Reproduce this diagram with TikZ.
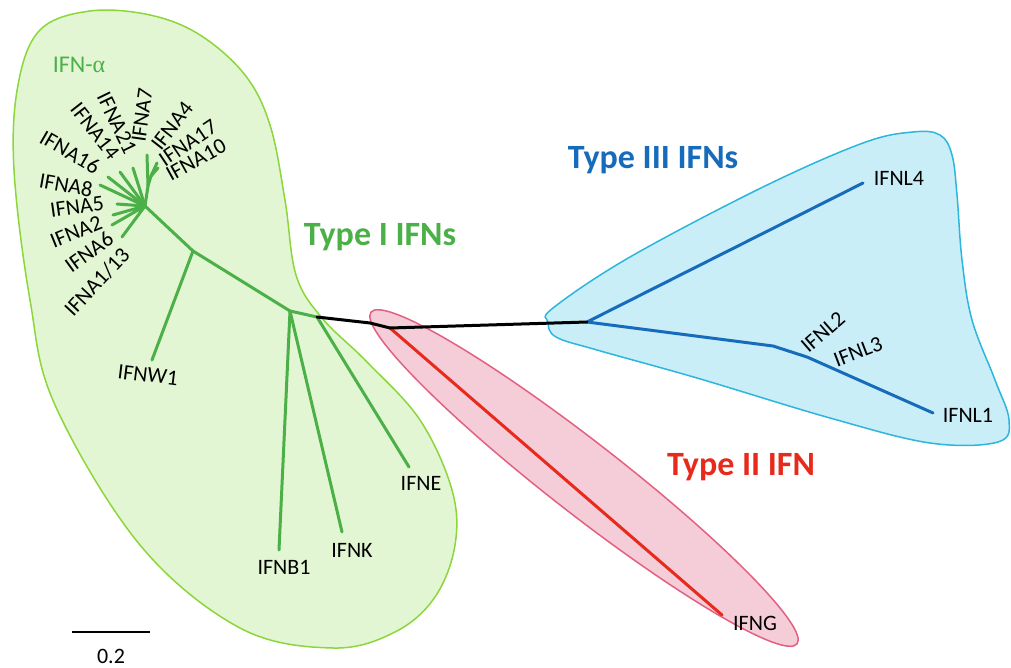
\documentclass[tikz,border=0pt]{standalone}
\usepackage{fontspec}
\setmainfont{Carlito}
\newfontfamily\greekfont{Liberation Serif}
\definecolor{typeIfill}{RGB}{227,246,211}
\definecolor{typeIline}{RGB}{140,214,60}
\definecolor{typeItree}{RGB}{76,176,72}
\definecolor{typeIIfill}{RGB}{244,205,216}
\definecolor{typeIIline}{RGB}{228,96,128}
\definecolor{typeIItree}{RGB}{232,42,28}
\definecolor{typeIIIfill}{RGB}{202,238,248}
\definecolor{typeIIIline}{RGB}{44,182,222}
\definecolor{typeIIItree}{RGB}{22,108,186}
\begin{document}
\begin{tikzpicture}[x=1pt,y=-1pt,
	gene/.style={font=\fontsize{22}{24}\selectfont, inner sep=0pt},
	group/.style={font=\fontsize{34}{36}\selectfont\bfseries, inner sep=0pt},
	limb/.style={line width=3pt, line cap=round, line join=round},
	hull/.style={line width=1.5pt}]
		\useasboundingbox (0,0) rectangle (1011,668);
		%clusters
		\draw[hull, typeIline, fill=typeIfill] plot[smooth cycle, tension=0.6] coordinates {
			(14,170) (18,85) (40,30) (90,11) (150,15) (200,35) (245,75) (270,125)
			(285,200) (296,275) (322,318) (367,362) (420,420) (452,490) (455,545)
			(435,597) (395,632) (333,648) (240,628) (140,545) (55,405) (30,300)};
		\begin{scope}[shift={(584,478)}, rotate=-37.9]
			\draw[hull, typeIIline, fill=typeIIfill] (0,0) ellipse (270pt and 36pt);
		\end{scope}
		\draw[hull, typeIIIline, fill=typeIIIfill] plot[smooth cycle, tension=0.6] coordinates {
			(553,308) (630,257) (763,187) (863,143) (913,132) (940,135) (952,155)
			(957,195) (962,260) (972,320) (995,380) (1009,420) (998,442) (930,443)
			(830,418) (697,378) (597,350) (556,337) (548,322)};
		
		%type I tree
		\coordinate (r1) at (317,317);
		\coordinate (j1) at (290,311);
		\coordinate (j2) at (193,251);
		\coordinate (j3) at (145,206);
		\coordinate (j4) at (148,186);
		\coordinate (j5) at (151,176);
		\coordinate (te) at (409,467);
		\coordinate (tk) at (342,532);
		\coordinate (tb) at (279,550);
		\coordinate (tw) at (152,360);
		\foreach \n/\x/\y in {a113/122/237, a6/112/225, a2/113/215, a5/117/204,
			a8/100/185, a16/108/177, a14/120/172, a21/133/168}{
			\coordinate (\n) at (\x,\y);
			\draw[limb, typeItree] (j3) -- (\n);
		}
		\coordinate (a7) at (147,155);
		\coordinate (a4) at (157,163);
		\coordinate (a17) at (158,168);
		\coordinate (a10) at (154,171);
		\draw[limb, typeItree] (j3) -- (j4) -- (a7);
		\draw[limb, typeItree] (j4) -- (j5) -- (a4);
		\draw[limb, typeItree] (j5) -- (a17);
		\draw[limb, typeItree] (j5) -- (a10);
		\draw[limb, typeItree] (j3) -- (j2) -- (j1) -- (r1) -- (te);
		\draw[limb, typeItree] (j2) -- (tw);
		\draw[limb, typeItree] (j1) -- (tb);
		\draw[limb, typeItree] (j1) -- (tk);
		
		%type III tree
		\coordinate (b0) at (587,322);
		\coordinate (b1) at (773,346);
		\coordinate (b2) at (807,357);
		\coordinate (tl4) at (863,183);
		\coordinate (tl1) at (933,413);
		\draw[limb, typeIIItree] (b0) -- (tl4);
		\draw[limb, typeIIItree] (b0) -- (b1) -- (b2) -- (tl1);
		
		%type II tree and stem
		\coordinate (g0) at (390,328);
		\coordinate (k1) at (370,323);
		\coordinate (tg) at (722,615);
		\draw[limb, typeIItree] (g0) -- (tg);
		\draw[limb, black] (r1) -- (k1) -- (g0) -- (b0);
		
		%labels
		\node[group, typeItree] (grp1) at (380,237){Type I IFNs};
		\node[group, typeIIItree] (grp3) at (653,160){Type III IFNs};
		\node[group, typeIItree] (grp2) at (741,467){Type II IFN};
		\node[gene, typeItree, font=\fontsize{24}{26}\selectfont] (alpha) at (79,65){IFN-{\greekfont α}};
		
		\foreach \n/\x/\y/\r/\t in {l113/97/282/47/IFNA1\slash13, l6/89/252/36/IFNA6,
			l2/76/232/22/IFNA2, l5/77/207/8/IFNA5, l8/66/185/-10/IFNA8,
			l16/70/152/-30/IFNA16, l14/95/131/-52/IFNA14, l21/117/123/-64/IFNA21,
			l7/142/115/82/IFNA7, l4/172/126/52/IFNA4, l17/188/143/34/IFNA17,
			l10/196/160/29/IFNA10}{
			\node[gene, rotate=\r] (\n) at (\x,\y){\t};
		}
		\node[gene, rotate=-7] (lw1) at (148,375){IFNW1};
		\node[gene] (lb1) at (284,567){IFNB1};
		\node[gene] (lk) at (352,550){IFNK};
		\node[gene] (le) at (421,483){IFNE};
		\node[gene] (lg) at (755,623){IFNG};
		\node[gene] (ll4) at (899,178){IFNL4};
		\node[gene, rotate=41] (ll2) at (823,332){IFNL2};
		\node[gene, rotate=21] (ll3) at (858,352){IFNL3};
		\node[gene] (ll1) at (968,415){IFNL1};
		
		%scale bar
		\coordinate (s0) at (72,632);
		\coordinate (s1) at (150,632);
		\draw[line width=2pt] (s0) -- (s1);
		\node[gene] (sc) at (111,656){0.2};
\end{tikzpicture}
\end{document}
